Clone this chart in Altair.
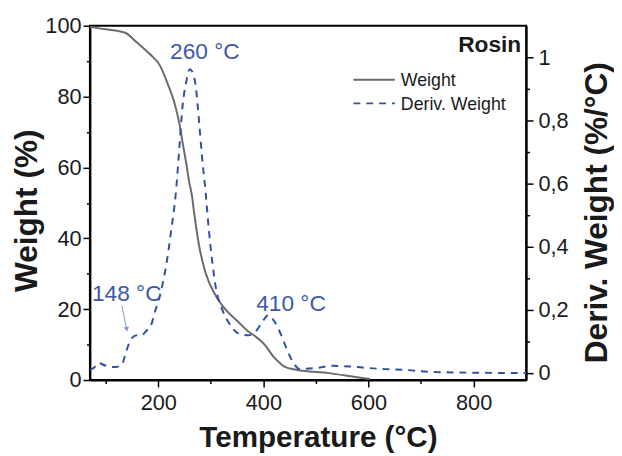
import altair as alt
import pandas as pd

# ---------------- data ----------------
temp_w = [70, 100, 137, 159, 184, 203, 218, 231, 240, 246.5, 253, 259, 264, 268.5,
          278, 290, 306, 322, 353, 369, 385, 394, 405, 419, 430, 440, 462, 525, 588, 603]
weight = [99.6, 99.0, 98.0, 95.3, 92.0, 88.8, 83.6, 78.1, 72.5, 66.9, 61.4, 55.8, 52.1, 47.0,
          37.7, 30.3, 24.7, 21.0, 16.3, 14.0, 12.3, 11.2, 9.5, 6.6, 5.0, 3.8, 2.9, 1.95, 0.56, 0.3]

temp_d = [70, 77, 87, 93, 109, 118, 131, 134, 140, 149, 159, 168, 178, 186, 193, 203, 215,
          224.5, 234, 240, 246.5, 253, 260, 266, 271.5, 278, 283, 290, 296.5, 303, 309, 322,
          334, 353, 372, 387, 400, 409, 422, 434, 444, 456, 469, 500, 531, 563, 600, 631,
          669, 731, 900]
deriv = [0.01, 0.016, 0.033, 0.028, 0.02, 0.019, 0.026, 0.04, 0.073, 0.11, 0.12, 0.12, 0.135,
         0.15, 0.19, 0.245, 0.34, 0.45, 0.58, 0.71, 0.85, 0.92, 0.962, 0.95, 0.906, 0.79, 0.69,
         0.575, 0.45, 0.35, 0.276, 0.20, 0.16, 0.125, 0.12, 0.135, 0.167, 0.183, 0.161, 0.12,
         0.078, 0.036, 0.013, 0.016, 0.023, 0.021, 0.016, 0.0125, 0.01, 0.003, 0.0]

x_major = [200, 400, 600, 800]
x_minor = [100, 300, 500, 700]
w_major = [0, 20, 40, 60, 80, 100]
w_minor = [10, 30, 50, 70, 90]
d_major = [0, 0.2, 0.4, 0.6, 0.8, 1.0]
d_minor = [0.1, 0.3, 0.5, 0.7, 0.9]

peak_labels = ["148 °C", "260 °C", "410 °C"]
legend_labels = ["Weight", "Deriv. Weight"]
sample_name = "Rosin"

X_DOM = [70, 900]
W_DOM = [0, 100]
D_DOM = [-0.022, 1.1]

# ---------------- styling ----------------
FONT = "Liberation Sans"
GREY = "#6b6b6b"
BLUE = "#3050a0"
TEXT_BLUE = "#3d58a8"
ARROW_BLUE = "#8196cc"
INK = "#1a1a1a"
DASH = [7, 6]

dfw = pd.DataFrame({"T": temp_w, "W": weight})
dfd = pd.DataFrame({"T": temp_d, "D": deriv})
one = pd.DataFrame({"k": [0]})

common = dict(labelFont=FONT, labelFontSize=22, labelColor=INK, tickColor="black",
              tickWidth=1.5, domainColor="black", domainWidth=2, grid=False,
              labelFlush=False, labelOverlap=False)
minor = dict(tickColor="black", tickWidth=1.5, tickSize=3.5, labels=False, domain=False,
             grid=False, title=None)
title_common = dict(titleFont=FONT, titleFontWeight="bold", titleColor=INK,
                    titleAlign="center", titleBaseline="alphabetic")

xs = alt.Scale(domain=X_DOM, nice=False, zero=False)
ws = alt.Scale(domain=W_DOM, nice=False, zero=False)
ds = alt.Scale(domain=D_DOM, nice=False, zero=False)

w_line = alt.Chart(dfw).mark_line(color=GREY, strokeWidth=2, interpolate="monotone", clip=True).encode(
    x=alt.X("T:Q", scale=xs, axis=alt.Axis(
        orient="bottom", values=x_major, tickSize=7, labelPadding=6,
        title="Temperature (°C)", titleFontSize=30, titleX=231, titleY=67, titleAngle=0,
        **title_common, **common)),
    y=alt.Y("W:Q", scale=ws, axis=alt.Axis(
        orient="left", values=w_major, tickSize=7, labelPadding=2,
        title="Weight (%)", titleFontSize=32, titleAngle=270, titleX=-54, titleY=187,
        **title_common, **common)),
)

w_minor = alt.Chart(dfw).mark_line(opacity=0).encode(
    x=alt.X("T:Q", scale=xs, axis=alt.Axis(orient="bottom", values=x_minor, **minor)),
    y=alt.Y("W:Q", scale=ws, axis=alt.Axis(orient="left", values=w_minor, **minor)),
)

d_line = alt.Chart(dfd).mark_line(color=BLUE, strokeWidth=2, strokeDash=DASH,
                                  interpolate="monotone", clip=True).encode(
    x=alt.X("T:Q", scale=xs, axis=None),
    y=alt.Y("D:Q", scale=ds, axis=alt.Axis(
        orient="right", values=d_major, tickSize=7, labelPadding=5,
        labelExpr="replace(format(datum.value, '.1~f'), '.', ',')",
        title="Deriv. Weight (%/°C)", titleFontSize=32, titleAngle=270,
        titleX=81, titleY=189, **title_common, **common)),
)

d_minor = alt.Chart(dfd).mark_line(opacity=0).encode(
    x=alt.X("T:Q", scale=xs, axis=None),
    y=alt.Y("D:Q", scale=ds, axis=alt.Axis(orient="right", values=d_minor, **minor)),
)


def label(text, x, y, size, color, weight="normal", align="center"):
    return alt.Chart(one).mark_text(font=FONT, fontSize=size, color=color, fontWeight=weight,
                                    align=align, baseline="alphabetic").encode(
        x=alt.value(x), y=alt.value(y), text=alt.value(text))


ann_148 = label(peak_labels[0], 37.3, 278.7, 23, TEXT_BLUE)
ann_260 = label(peak_labels[1], 116.5, 33.7, 23, TEXT_BLUE)
ann_410 = label(peak_labels[2], 203.7, 288.7, 23, TEXT_BLUE)
rosin = label(sample_name, 437, 27, 23, INK, weight="bold", align="right")

arrow_line = alt.Chart(one).mark_rule(color=ARROW_BLUE, strokeWidth=1).encode(
    x=alt.value(32.3), y=alt.value(283.7), x2=alt.value(37.0), y2=alt.value(306))
arrow_head = alt.Chart(one).mark_point(shape="triangle-down", filled=True, size=30,
                                       color=ARROW_BLUE, opacity=1, angle=349).encode(
    x=alt.value(37.3), y=alt.value(307.5))

leg_w_line = alt.Chart(one).mark_rule(color=GREY, strokeWidth=2).encode(
    x=alt.value(267), x2=alt.value(309), y=alt.value(54.7))
leg_d_line = alt.Chart(one).mark_rule(color=BLUE, strokeWidth=2, strokeDash=DASH).encode(
    x=alt.value(267), x2=alt.value(309), y=alt.value(78.7))
leg_w_txt = label(legend_labels[0], 315, 61.5, 18, INK, align="left")
leg_d_txt = label(legend_labels[1], 315, 85.5, 18, INK, align="left")

chart = alt.layer(
    w_line, w_minor, d_line, d_minor,
    arrow_line, arrow_head, ann_148, ann_260, ann_410, rosin,
    leg_w_line, leg_d_line, leg_w_txt, leg_d_txt,
).resolve_scale(y="independent").resolve_axis(x="independent", y="independent").properties(
    width=442, height=359,
    autosize=alt.AutoSizeParams(type="none"),
    padding={"left": 83, "top": 15, "right": 89, "bottom": 72},
    background="white",
).configure_view(stroke="black", strokeWidth=2)

chart.save("out.html", embed_options={"renderer": "svg", "actions": False})
